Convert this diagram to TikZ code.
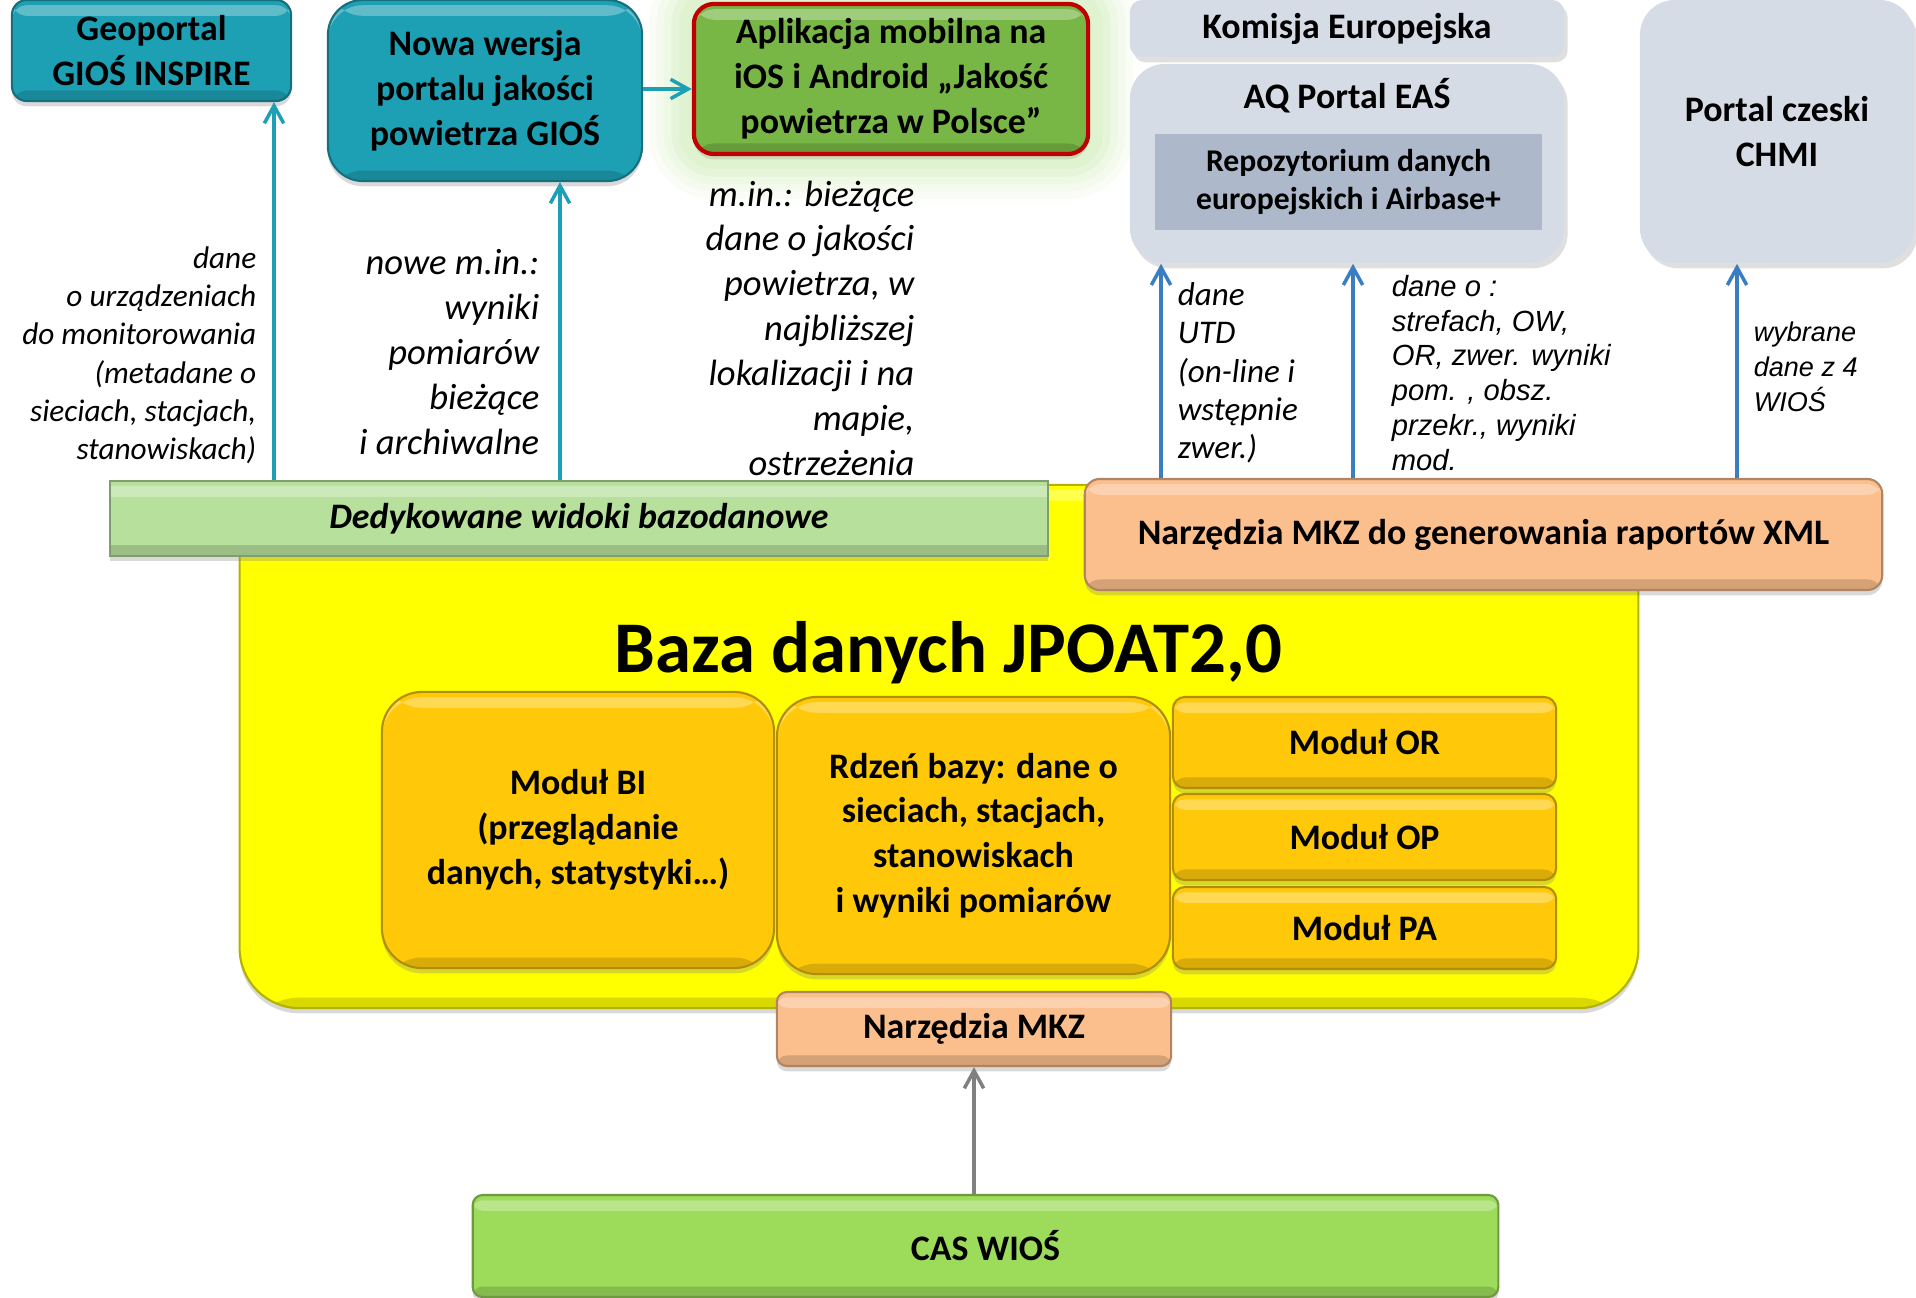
\documentclass[tikz,border=0pt]{standalone}
\usepackage{fontspec}
\setmainfont{Carlito}
\newfontfamily\arialf{Liberation Sans}
\usetikzlibrary{arrows.meta,shadows}

\definecolor{morski}{HTML}{1EA0B4}
\definecolor{apkazielen}{HTML}{78B646}
\definecolor{apkaramka}{HTML}{C00000}
\definecolor{poswiata}{HTML}{B4E290}
\definecolor{szary}{HTML}{D6DCE5}
\definecolor{szaryciemny}{HTML}{ADB9CA}
\definecolor{niebieski}{HTML}{3A7DC1}
\definecolor{zolty}{HTML}{FFFF00}
\definecolor{zloty}{HTML}{FFC90A}
\definecolor{brzoskwinia}{HTML}{FBBE8D}
\definecolor{jasnozielony}{HTML}{B6E09C}
\definecolor{caszielen}{HTML}{9CDC5A}
\definecolor{szarastrz}{HTML}{808080}

\tikzset{
  blok/.style={draw=#1!70!black, fill=#1, line width=0.6pt, align=center, inner sep=0pt,
    font=\fontsize{10.2}{12.75}\selectfont\bfseries,
    drop shadow={opacity=0.3, shadow xshift=0pt, shadow yshift=-1.5pt},
    path picture={
      \fill[white, opacity=0.3] ([yshift=-1.5pt]path picture bounding box.north west) rectangle ([yshift=-4.5pt]path picture bounding box.north east);
      \fill[black, opacity=0.15] ([yshift=3pt]path picture bounding box.south west) rectangle (path picture bounding box.south east);
    }},
  szaryblok/.style={fill=szary, rounded corners=0.35cm, align=center, inner sep=0pt,
    font=\fontsize{10.2}{12.75}\selectfont\bfseries,
    drop shadow={opacity=0.25, shadow xshift=1pt, shadow yshift=-1.5pt}},
  poswiata/.style={preaction={draw=poswiata, line width=0.9cm, opacity=0.08},
    preaction={draw=poswiata, line width=0.75cm, opacity=0.08},
    preaction={draw=poswiata, line width=0.6cm, opacity=0.1},
    preaction={draw=poswiata, line width=0.45cm, opacity=0.12},
    preaction={draw=poswiata, line width=0.3cm, opacity=0.15}},
  strzalka/.style={draw=#1, line width=1pt, -{Straight Barb[length=5pt,width=5.5pt]}},
  opis1/.style={inner sep=0pt, align=right, font=\fontsize{8.9}{10.9}\selectfont\itshape},
  opis2/.style={inner sep=0pt, align=right, font=\fontsize{10.4}{12.75}\selectfont\itshape},
  opis3/.style={inner sep=0pt, align=left, font=\fontsize{9.4}{10.9}\selectfont\itshape},
  opis4/.style={inner sep=0pt, align=left, font=\arialf\fontsize{8.3}{9.9}\selectfont\itshape},
  opis5/.style={inner sep=0pt, align=left, font=\arialf\fontsize{7.7}{10}\selectfont\itshape}
}

\begin{document}
\begin{tikzpicture}[x=0.01cm, y=-0.01cm]
  \useasboundingbox (0,0) rectangle (1916,1297);

  % Baza i moduly
  \node[blok=zolty, rounded corners=0.6cm, minimum width=13.98cm, minimum height=5.23cm] (baza) at (939,746.5) {};
  \node[font=\fontsize{20.7}{24}\selectfont\bfseries] (tytul) at (948,653) {Baza danych JPOAT2,0};
  \node[blok=jasnozielony, minimum width=9.38cm, minimum height=0.75cm, font=\fontsize{10.2}{12.75}\selectfont\bfseries\itshape] (widoki) at (579,518.5) {Dedykowane widoki bazodanowe};
  \node[blok=brzoskwinia, rounded corners=0.15cm, minimum width=7.97cm, minimum height=1.11cm] (xml) at (1483.5,534.5) {Narzędzia MKZ do generowania raportów XML};
  \node[blok=zloty, rounded corners=0.4cm, minimum width=3.92cm, minimum height=2.76cm] (bi) at (578,830) {Moduł BI\\(przeglądanie\\danych, statystyki…)};
  \node[blok=zloty, rounded corners=0.4cm, minimum width=3.93cm, minimum height=2.77cm] (rdzen) at (973.5,835.5) {Rdzeń bazy: dane o\\sieciach, stacjach,\\stanowiskach\\i wyniki pomiarów};
  \node[blok=zloty, rounded corners=0.12cm, minimum width=3.83cm, minimum height=0.91cm] (or) at (1364.5,742.5) {Moduł OR};
  \node[blok=zloty, rounded corners=0.12cm, minimum width=3.83cm, minimum height=0.86cm] (op) at (1364.5,837) {Moduł OP};
  \node[blok=zloty, rounded corners=0.12cm, minimum width=3.83cm, minimum height=0.82cm] (pa) at (1364.5,928) {Moduł PA};
  \node[blok=brzoskwinia, rounded corners=0.1cm, minimum width=3.94cm, minimum height=0.74cm] (mkz) at (974,1029) {Narzędzia MKZ};
  \node[blok=caszielen, rounded corners=0.1cm, minimum width=10.25cm, minimum height=1.02cm] (cas) at (985.5,1246) {CAS WIOŚ};

  % Odbiorcy danych
  \node[blok=morski, rounded corners=0.15cm, minimum width=2.79cm, minimum height=1.01cm] (geo) at (151.5,50.5) {Geoportal\\GIOŚ INSPIRE};
  \node[blok=morski, rounded corners=0.35cm, minimum width=3.14cm, minimum height=1.81cm] (nowa) at (485,90.5) {Nowa wersja\\portalu jakości\\powietrza GIOŚ};
  \node[blok=apkazielen, draw=apkaramka, line width=1.2pt, poswiata, rounded corners=0.2cm, minimum width=3.94cm, minimum height=1.5cm] (apl) at (891,79) {Aplikacja mobilna na\\iOS i Android „Jakość\\powietrza w Polsce”};
  \node[szaryblok, rounded corners=0.12cm, minimum width=4.34cm, minimum height=0.57cm] (kom) at (1347,28.5) {Komisja Europejska};
  \node[szaryblok, minimum width=4.34cm, minimum height=1.99cm] (aq) at (1347,163.5) {};
  \node[font=\fontsize{10.2}{12.75}\selectfont\bfseries] (aqtytul) at (1347,96) {AQ Portal EAŚ};
  \node[fill=szaryciemny, align=center, inner sep=0pt, minimum width=3.87cm, minimum height=0.96cm, font=\fontsize{9}{11}\selectfont\bfseries] (repo) at (1348.5,182) {Repozytorium danych\\europejskich i Airbase+};
  \node[szaryblok, minimum width=2.74cm, minimum height=2.63cm] (cz) at (1777,131.5) {Portal czeski\\CHMI};

  \coordinate (s1) at (274,0);
  \coordinate (s2) at (560,0);
  \coordinate (s3) at (0,89);
  \coordinate (s4) at (1161,0);
  \coordinate (s5) at (1353,0);
  \coordinate (s6) at (1737,0);

  % Strzalki miedzy blokami
  \draw[strzalka=morski] (widoki.north -| s1) -- node[opis1, pos=0.33, left=0.16cm] {dane\\o urządzeniach\\do monitorowania\\(metadane o\\sieciach, stacjach,\\stanowiskach)} (geo.south -| s1);
  \draw[strzalka=morski] (widoki.north -| s2) -- node[opis2, pos=0.43, left=0.19cm] {nowe m.in.:\\wyniki\\pomiarów\\bieżące\\i archiwalne} (nowa.south -| s2);
  \draw[strzalka=morski] (nowa.east |- s3) -- (apl.west |- s3);
  \node[opis2, anchor=east] (opisapl) at (915,328) {m.in.: bieżące\\dane o jakości\\powietrza, w\\najbliższej\\lokalizacji i na\\mapie,\\ostrzeżenia};
  \draw[strzalka=niebieski] (xml.north -| s4) -- node[opis3, pos=0.49, right=0.15cm] {dane\\UTD\\(on-line i\\wstępnie\\zwer.)} (aq.south -| s4);
  \draw[strzalka=niebieski] (xml.north -| s5) -- node[opis4, pos=0.49, right=0.37cm] {dane o :\\strefach, OW,\\OR, zwer. wyniki\\pom. , obsz.\\przekr., wyniki\\mod.} (aq.south -| s5);
  \draw[strzalka=niebieski] (xml.north -| s6) -- node[opis5, pos=0.52, right=0.15cm] {wybrane\\dane z 4\\WIOŚ} (cz.south -| s6);
  \draw[strzalka=szarastrz] (cas.north -| mkz) -- (mkz.south);
\end{tikzpicture}
\end{document}
